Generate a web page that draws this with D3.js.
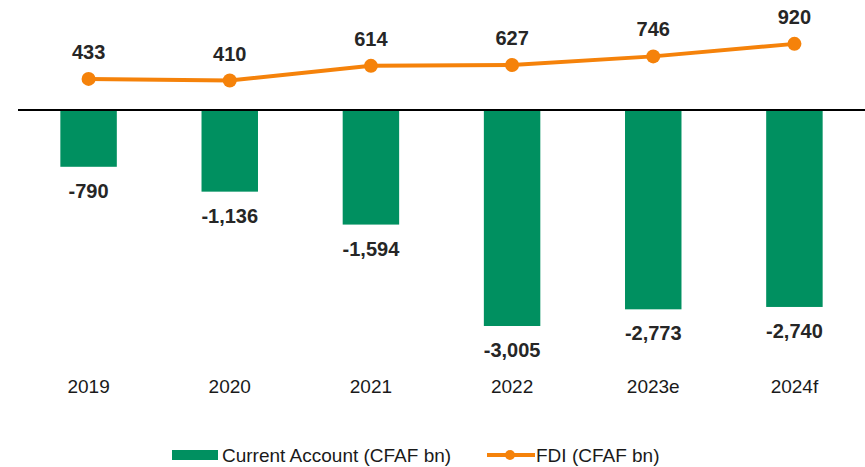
<!DOCTYPE html>
<html>
<head>
<meta charset="utf-8">
<script src="https://cdn.jsdelivr.net/npm/d3@7"></script>
<style>
body{margin:0;background:#fff;}
text{font-family:"Liberation Sans",Arial,sans-serif;}
</style>
</head>
<body>
<div class="main"></div>
<script>
var years=['2019','2020','2021','2022','2023e','2024f'];
var currentAccount=[-790,-1136,-1594,-3005,-2773,-2740];
var fdi=[433,410,614,627,746,920];
var seriesNames=['Current Account (CFAF bn)','FDI (CFAF bn)'];

var width=865, height=467;
var green='#009060', orange='#F5820A';

var svg=d3.select('.main').append('svg')
    .attr('width',width)
    .attr('height',height);

var x=d3.scaleBand()
    .domain(years)
    .range([18,865])
    .paddingInner(0.6)
    .paddingOuter(0.3);

var y=d3.scaleLinear()
    .domain([0,-3005])
    .range([110,326]);

var fmt=d3.formatLocale({decimal:'.',thousands:',',grouping:[3],currency:['',''],minus:'-'}).format(',');

// bars
svg.selectAll('.bar')
    .data(currentAccount)
    .enter().append('rect')
    .attr('class','bar')
    .attr('x',function(d,i){return x(years[i]);})
    .attr('y',y(0))
    .attr('width',x.bandwidth())
    .attr('height',function(d){return y(d)-y(0);})
    .style('fill',green);

// zero line
svg.append('line')
    .attr('x1',18).attr('x2',865)
    .attr('y1',y(0)).attr('y2',y(0))
    .style('stroke','#000')
    .style('stroke-width',2);

// bar labels
svg.selectAll('.bar-label')
    .data(currentAccount)
    .enter().append('text')
    .attr('class','bar-label')
    .attr('x',function(d,i){return x(years[i])+x.bandwidth()/2;})
    .attr('y',function(d){return y(d)+24;})
    .attr('dy','.35em')
    .attr('text-anchor','middle')
    .style('font-size','20px')
    .style('font-weight','bold')
    .style('fill','#262626')
    .text(function(d){return fmt(d);});

// FDI line
var line=d3.line()
    .x(function(d,i){return x(years[i])+x.bandwidth()/2;})
    .y(function(d){return y(d);});

svg.append('path')
    .datum(fdi)
    .attr('d',line)
    .style('fill','none')
    .style('stroke',orange)
    .style('stroke-width',4);

svg.selectAll('.dot')
    .data(fdi)
    .enter().append('circle')
    .attr('class','dot')
    .attr('r',7)
    .attr('cx',function(d,i){return x(years[i])+x.bandwidth()/2;})
    .attr('cy',function(d){return y(d);})
    .style('fill',orange);

svg.selectAll('.fdi-label')
    .data(fdi)
    .enter().append('text')
    .attr('class','fdi-label')
    .attr('x',function(d,i){return x(years[i])+x.bandwidth()/2;})
    .attr('y',function(d){return y(d)-27;})
    .attr('dy','.35em')
    .attr('text-anchor','middle')
    .style('font-size','20px')
    .style('font-weight','bold')
    .style('fill','#262626')
    .text(function(d){return fmt(d);});

// category labels
var xAxis=d3.axisBottom(x).tickSize(0).tickPadding(0);
var xAxisGroup=svg.append('g')
    .attr('transform','translate(0,379)')
    .call(xAxis);
xAxisGroup.select('.domain').remove();
xAxisGroup.selectAll('text')
    .style('font-family','"Liberation Sans",Arial,sans-serif')
    .style('font-size','19px')
    .style('fill','#1a1a1a');

// legend
var legend=svg.append('g').attr('id','legend');
legend.append('rect')
    .attr('x',172).attr('y',450)
    .attr('width',46).attr('height',10)
    .style('fill',green);
legend.append('text')
    .attr('x',222).attr('y',455)
    .attr('dy','.35em')
    .style('font-size','19px')
    .style('fill','#1a1a1a')
    .text(seriesNames[0]);
legend.append('line')
    .attr('x1',487).attr('x2',535)
    .attr('y1',455).attr('y2',455)
    .style('stroke',orange)
    .style('stroke-width',4);
legend.append('circle')
    .attr('cx',510).attr('cy',455).attr('r',5)
    .style('fill',orange);
legend.append('text')
    .attr('x',536).attr('y',455)
    .attr('dy','.35em')
    .style('font-size','19px')
    .style('fill','#1a1a1a')
    .text(seriesNames[1]);
</script>
</body>
</html>
